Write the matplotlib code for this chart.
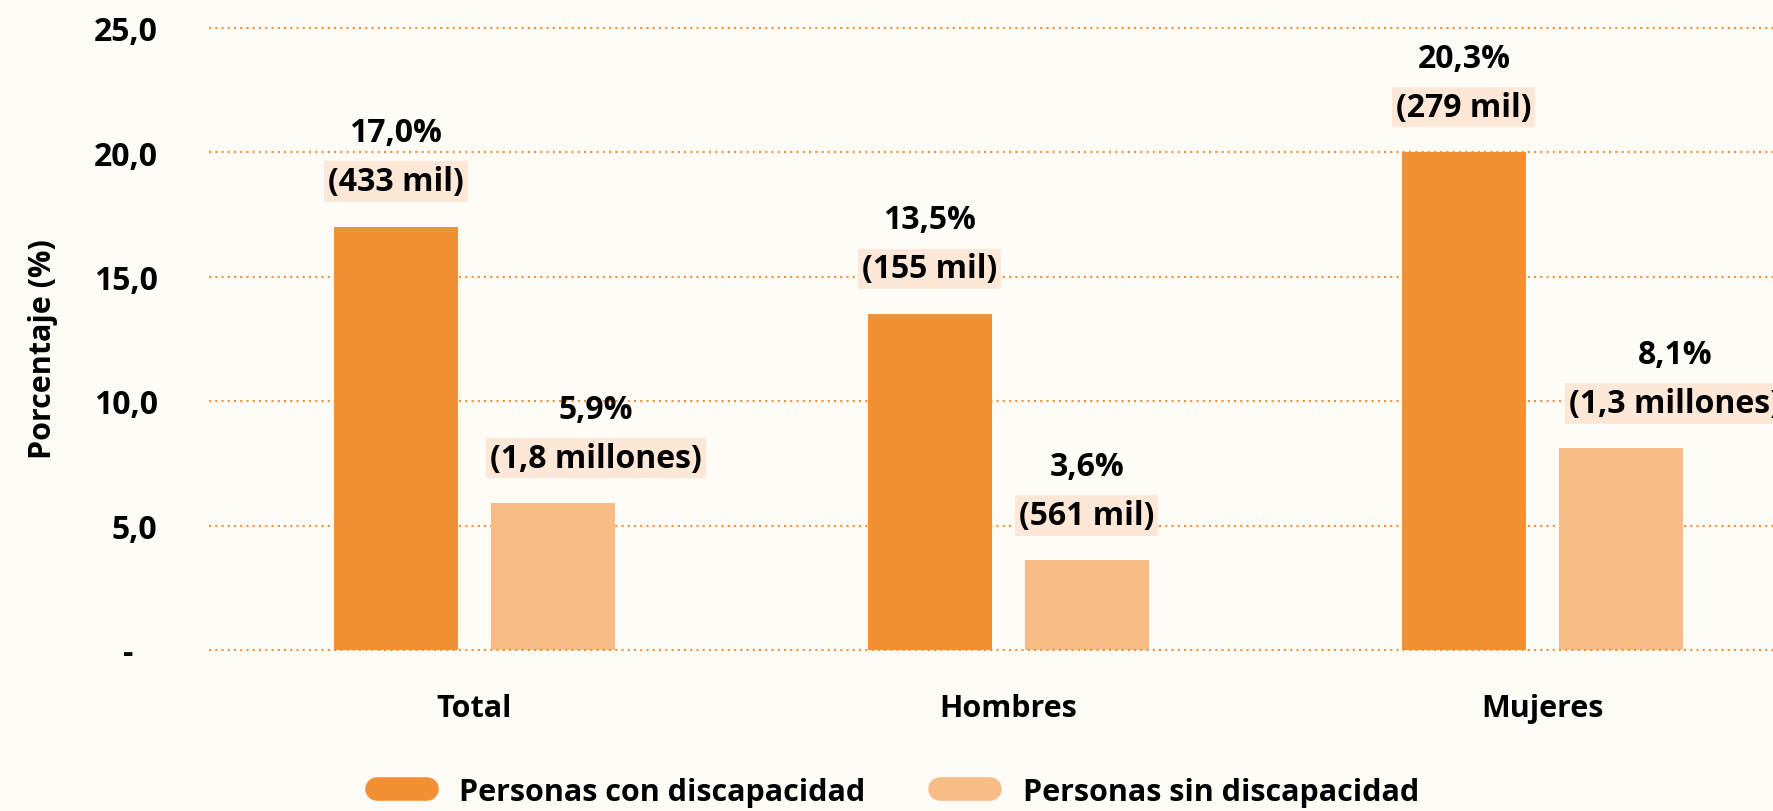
import numpy as np
import matplotlib
matplotlib.use("Agg")
import matplotlib.pyplot as plt
from matplotlib.lines import Line2D
from matplotlib.transforms import ScaledTranslation

# Data
categories = ["Total", "Hombres", "Mujeres"]
con_disc = [17.0, 13.5, 20.0]        # bar heights (%)
sin_disc = [5.9, 3.6, 8.1]
con_pct = ["17,0%", "13,5%", "20,3%"]
con_abs = ["(433 mil)", "(155 mil)", "(279 mil)"]
sin_pct = ["5,9%", "3,6%", "8,1%"]
sin_abs = ["(1,8 millones)", "(561 mil)", "(1,3 millones)"]
yticks = [0, 5, 10, 15, 20, 25]
ytick_labels = ["-", "5,0", "10,0", "15,0", "20,0", "25,0"]
series_names = ["Personas con discapacidad", "Personas sin discapacidad"]

# Styling
C_CON = "#F39033"
C_SIN = "#F8BC87"
BG = "#FFFBF6"
BOX = "#FDE8D8"
FONT = "Open Sans"
FS_LAB = 23   # data labels
FS_TICK = 22

plt.rcParams["font.family"] = [FONT, "DejaVu Sans"]
plt.rcParams["font.weight"] = "bold"

W, H = 1773, 812
fig = plt.figure(figsize=(W / 100, H / 100), dpi=100, facecolor=BG)
ax = fig.add_axes([209 / W, 161 / H, 1 - 209 / W, (651 - 28.5) / H])
ax.set_facecolor(BG)

x = np.arange(len(categories))
bw = 0.232
off = 0.147
ax.bar(x - off, con_disc, bw, color=C_CON, zorder=2)
ax.bar(x + off, sin_disc, bw, color=C_SIN, zorder=2)

ax.set_xlim(-0.497, -0.497 + (W - 209) / 534)
ax.set_ylim(0, 25)

# dotted grid
for yv in yticks:
    ax.axhline(yv, color=C_CON, lw=1.5, ls=(0, (1, 2)), zorder=1 if yv else 3,
               clip_on=False)

for s in ax.spines.values():
    s.set_visible(False)

ax.set_xticks(x)
ax.set_xticklabels(categories, fontsize=FS_TICK, fontweight="bold")
ax.tick_params(axis="x", length=0, pad=31)
ax.set_yticks(yticks)
ax.set_yticklabels(ytick_labels, fontsize=FS_TICK + 1, fontweight="bold")
ax.tick_params(axis="y", length=0, pad=37)
# accounting-style dash sits a bit further left
zero_lab = ax.get_yticklabels()[0]
zero_lab.set_transform(zero_lab.get_transform()
                       + ScaledTranslation(-24 / 100, 0, fig.dpi_scale_trans))

fig.text(43 / W, 1 - 349 / H, "Porcentaje (%)", rotation=90, ha="center",
         va="center", fontsize=FS_TICK, fontweight="bold")

# value labels: percent on top, absolute in a shaded box below it
sin_shift = [43, 0, 54]  # px, labels nudged right as in the original
box = dict(boxstyle="square,pad=0.12", fc=BOX, ec="none")
for i in range(len(categories)):
    for xc, val, pct, ab, dx in [(x[i] - off, con_disc[i], con_pct[i], con_abs[i], 0),
                                 (x[i] + off, sin_disc[i], sin_pct[i], sin_abs[i], sin_shift[i])]:
        ax.annotate(pct, (xc, val), xytext=(dx, 94), textcoords="offset pixels",
                    ha="center", va="center", fontsize=FS_LAB, fontweight="bold",
                    annotation_clip=False, zorder=4)
        ax.annotate(ab, (xc, val), xytext=(dx, 45), textcoords="offset pixels",
                    ha="center", va="center", fontsize=FS_LAB, fontweight="bold",
                    bbox=box, annotation_clip=False, zorder=4)

handles = [Line2D([0], [0], color=c, lw=17, solid_capstyle="round")
           for c in (C_CON, C_SIN)]
fig.legend(handles, series_names, loc="center", ncol=2,
           bbox_to_anchor=(898 / W, 1 - 793 / H), frameon=False,
           prop=dict(family=FONT, weight="bold", size=FS_TICK),
           handlelength=1.63, handletextpad=1.06, columnspacing=2.45)

fig.savefig("out.png", dpi=100, facecolor=BG)
